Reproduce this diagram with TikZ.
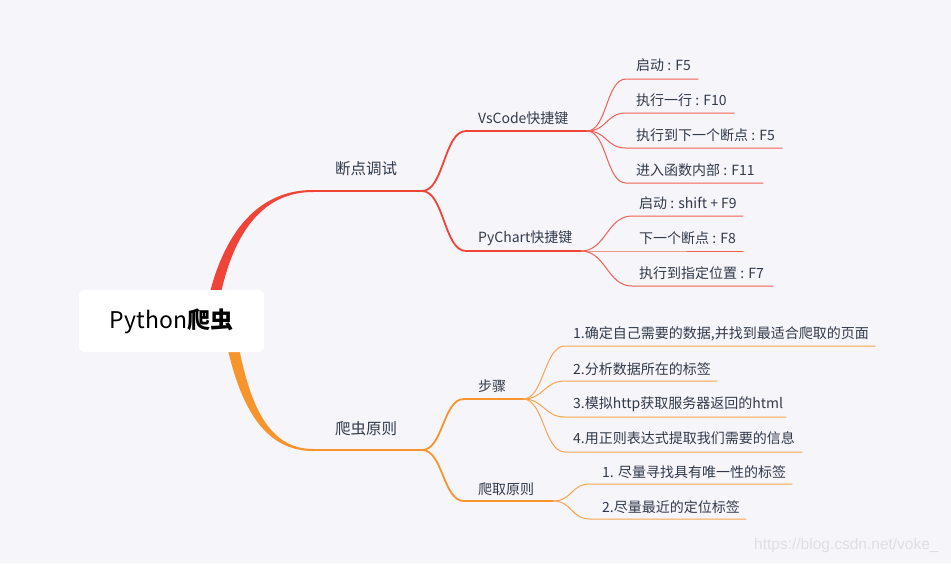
\documentclass[tikz,border=0pt]{standalone}
\usepackage{fontspec}
\setmainfont{Noto Sans CJK SC}
\newfontfamily\wmfont{Liberation Sans}
\definecolor{bgc}{RGB}{245,245,250}
\definecolor{redc}{RGB}{240,68,56}
\definecolor{redl}{RGB}{242,96,86}
\definecolor{orac}{RGB}{247,148,44}
\definecolor{oral}{RGB}{248,164,78}
\definecolor{txtc}{RGB}{50,58,74}
\definecolor{wmc}{RGB}{222,222,228}
\begin{document}
\begin{tikzpicture}[x=1pt,y=-1pt,line cap=round,line join=round]
	\tikzset{rootbox/.style={fill=white,rounded corners=6pt,minimum width=185pt,minimum height=62pt,inner sep=0pt,text=black,font=\fontsize{23}{28}\selectfont},
		topic/.style={inner sep=0pt,text=txtc,font=\fontsize{15.5}{18}\selectfont},
		subtopic/.style={anchor=west,inner sep=0pt,text=txtc,font=\fontsize{14}{17}\selectfont},
		leaf/.style={anchor=west,inner sep=0pt,text=txtc,font=\fontsize{14}{17}\selectfont},
		mainred/.style={draw=redc,line width=2pt},
		subred/.style={draw=redc,line width=1.8pt},
		leafred/.style={draw=redl,line width=1pt},
		mainora/.style={draw=orac,line width=2pt},
		subora/.style={draw=orac,line width=1.8pt},
		leafora/.style={draw=oral,line width=1pt}}
	\fill[bgc] (0,0) rectangle (951,563);
	\useasboundingbox (0,0) rectangle (951,563);
	\coordinate (rc) at (171.5,321);
	% main branches
	\coordinate (d0) at (313,191);
	\coordinate (dj) at (422,191);
	\fill[redc] ([xshift=32.5pt]rc) .. controls +(10,-63) and +(-70,0) .. ([yshift=1pt]d0) -- ([yshift=-1pt]d0) .. controls +(-66,0) and +(8,-59) .. ([xshift=44.5pt]rc) -- cycle;
	\draw[mainred] (d0) -- (dj);
	\coordinate (p0) at (313,450);
	\coordinate (pj) at (422,450);
	\fill[orac] ([xshift=50.5pt]rc) .. controls +(12,67) and +(-58,0) .. ([yshift=-1pt]p0) -- ([yshift=1pt]p0) .. controls +(-53,0) and +(11,65) .. ([xshift=62.5pt]rc) -- cycle;
	\draw[mainora] (p0) -- (pj);
	\node[rootbox] (root) at (rc) {Python\textbf{爬虫}};
	\node[topic] (debug) at (366,169) {断点调试};
	\node[topic] (spider) at (366,429) {爬虫原则};
	% sub branches
	\coordinate (vs0) at (466,131);
	\coordinate (vs1) at (587,131);
	\coordinate (py0) at (466,251);
	\coordinate (py1) at (581,251);
	\draw[subred] (dj) .. controls +(22,0) and +(-22,0) .. (vs0) -- (vs1);
	\draw[subred] (dj) .. controls +(22,0) and +(-22,0) .. (py0) -- (py1);
	\node[subtopic] (vscode) at (478,118) {VsCode快捷键};
	\node[subtopic] (pychart) at (478,238) {PyChart快捷键};
	\coordinate (bz0) at (464,399);
	\coordinate (bz1) at (523,399);
	\coordinate (pq0) at (464,501);
	\coordinate (pq1) at (553,501);
	\draw[subora] (pj) .. controls +(21,0) and +(-21,0) .. (bz0) -- (bz1);
	\draw[subora] (pj) .. controls +(21,0) and +(-21,0) .. (pq0) -- (pq1);
	\node[subtopic] (steps) at (478,386) {步骤};
	\node[subtopic] (rules) at (478,489) {爬取原则};
	% leaves
	\foreach \y/\e [count=\i] in {79/698,113/734,148/782,183/763}{
		\coordinate (va\i) at (626,\y);
		\coordinate (vb\i) at (\e,\y);
		\draw[leafred] (vs1) .. controls +(20,0) and +(-20,0) .. (va\i) -- (vb\i);
	}
	\foreach \y/\e [count=\i] in {216/743,251/743,286/773}{
		\coordinate (pa\i) at (632,\y);
		\coordinate (pb\i) at (\e,\y);
		\draw[leafred] (py1) .. controls +(25,0) and +(-25,0) .. (pa\i) -- (pb\i);
	}
	\foreach \y/\e [count=\i] in {346/875,381/717,417/786,452/802}{
		\coordinate (sa\i) at (565,\y);
		\coordinate (sb\i) at (\e,\y);
		\draw[leafora] (bz1) .. controls +(21,0) and +(-21,0) .. (sa\i) -- (sb\i);
	}
	\foreach \y/\e [count=\i] in {484/792,519/746}{
		\coordinate (ra\i) at (590,\y);
		\coordinate (rb\i) at (\e,\y);
		\draw[leafora] (pq1) .. controls +(19,0) and +(-19,0) .. (ra\i) -- (rb\i);
	}
	\node[leaf] (v1) at (636,65) {启动 : F5};
	\node[leaf] (v2) at (636,100) {执行一行 : F10};
	\node[leaf] (v3) at (636,135) {执行到下一个断点 : F5};
	\node[leaf] (v4) at (636,170) {进入函数内部 : F11};
	\node[leaf] (p1) at (639,203) {启动 : shift + F9};
	\node[leaf] (p2) at (639,238) {下一个断点 : F8};
	\node[leaf] (p3) at (639,273) {执行到指定位置 : F7};
	\node[leaf] (s1) at (573,334) {1.确定自己需要的数据,并找到最适合爬取的页面};
	\node[leaf] (s2) at (573,369) {2.分析数据所在的标签};
	\node[leaf] (s3) at (573,404) {3.模拟http获取服务器返回的html};
	\node[leaf] (s4) at (573,438) {4.用正则表达式提取我们需要的信息};
	\node[leaf] (r1) at (602,472) {1. 尽量寻找具有唯一性的标签};
	\node[leaf] (r2) at (602,507) {2.尽量最近的定位标签};
	\node[anchor=west,inner sep=0pt,text=wmc,font=\wmfont\fontsize{15.5}{18}\selectfont] (wm) at (754,545) {https://blog.csdn.net/voke\_};
\end{tikzpicture}
\end{document}
